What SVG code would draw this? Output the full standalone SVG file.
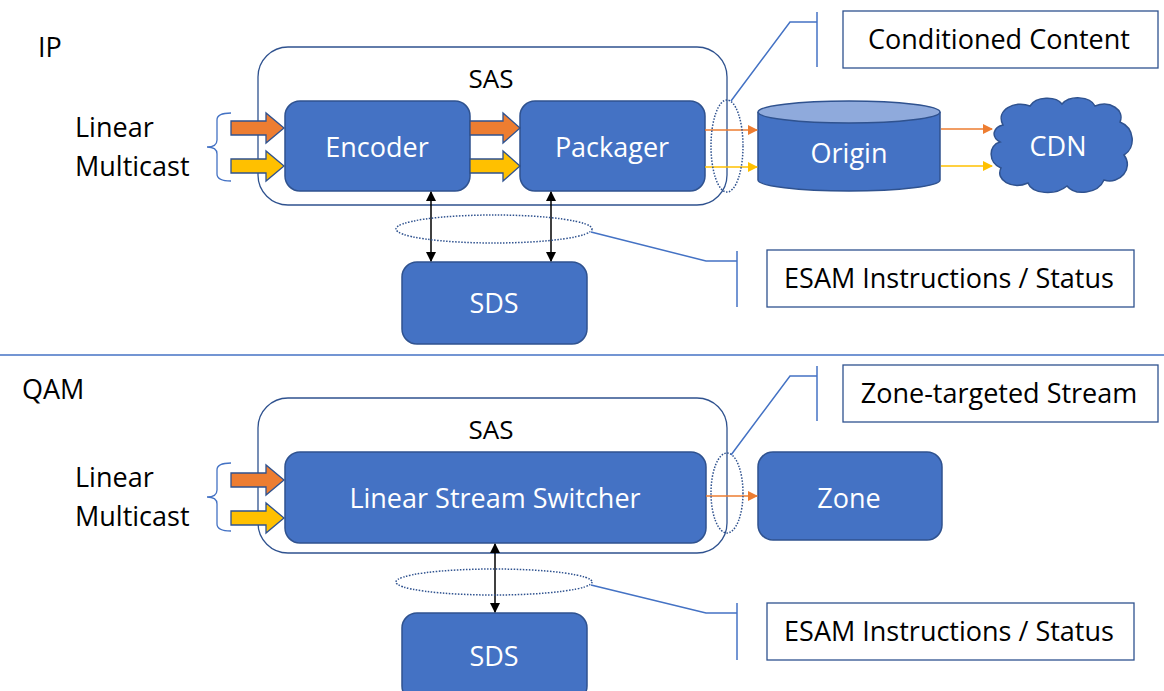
<svg xmlns="http://www.w3.org/2000/svg" width="1164" height="691" viewBox="0 0 1164 691">
<style>
text{font-family:"Open Sans","Liberation Sans",sans-serif;}
.lbl{font-size:27px;fill:#000;}
.nt{font-size:27px;fill:#fff;text-anchor:middle;dominant-baseline:central;}
.sas{font-size:26px;fill:#000;text-anchor:middle;}
.node{fill:#4472C4;stroke:#2F528F;stroke-width:1.5;}
.cont{fill:none;stroke:#2F528F;stroke-width:1.3;}
.dot{fill:none;stroke:#2F528F;stroke-width:1.5;stroke-dasharray:1.5 1.5;}
.call{fill:none;stroke:#4472C4;stroke-width:1.5;}
.box{fill:#fff;stroke:#2F528F;stroke-width:1.3;}
.ora{fill:#ED7D31;stroke:#2F528F;stroke-width:1.3;}
.yel{fill:#FFC000;stroke:#2F528F;stroke-width:1.3;}
.ol{stroke:#ED7D31;stroke-width:1.5;fill:none;}
.yl{stroke:#FFC000;stroke-width:1.5;fill:none;}
.bl{stroke:#000;stroke-width:1.5;fill:none;}
.brace{fill:none;stroke:#4472C4;stroke-width:1.3;}
</style>
<defs>
<marker id="mo" markerWidth="10" markerHeight="10" refX="9" refY="5" orient="auto" markerUnits="userSpaceOnUse"><path d="M0,0 L10,5 L0,10 z" fill="#ED7D31"/></marker>
<marker id="my" markerWidth="10" markerHeight="10" refX="9" refY="5" orient="auto" markerUnits="userSpaceOnUse"><path d="M0,0 L10,5 L0,10 z" fill="#FFC000"/></marker>
<marker id="mb" markerWidth="10" markerHeight="10" refX="9" refY="5" orient="auto-start-reverse" markerUnits="userSpaceOnUse"><path d="M0,0 L10,5 L0,10 z" fill="#000"/></marker>
</defs>

<!-- section labels -->
<text class="lbl" x="38" y="57">IP</text>
<text class="lbl" x="22" y="399">QAM</text>
<line x1="0" y1="355" x2="1164" y2="355" stroke="#4472C4" stroke-width="1.3"/>

<!-- TOP SECTION -->
<g id="ip-sas"><rect class="cont" x="258" y="47" width="469" height="158" rx="30"/><text class="sas" x="491" y="88">SAS</text></g>
<g id="ip-input">
<text class="lbl" x="75" y="137">Linear</text>
<text class="lbl" x="75" y="176">Multicast</text>
<path class="brace" d="M231,113 Q217,113 217,120 L217,140 Q217,147 207,147 Q217,147 217,154 L217,174 Q217,181 231,181"/>
</g>
<g id="encoder"><rect class="node" x="285" y="101" width="185" height="90" rx="15"/><text class="nt" x="377" y="146">Encoder</text></g>
<g id="packager"><rect class="node" x="520" y="101" width="185" height="90" rx="15"/><text class="nt" x="612" y="146">Packager</text></g>
<g id="origin">
<path class="node" d="M758,112 L758,180 A91,11 0 0 0 940,180 L940,112"/>
<ellipse cx="849" cy="112" rx="91" ry="11" fill="#8FAADC" stroke="#2F528F" stroke-width="1.5"/>
<text class="nt" x="849" y="152">Origin</text>
</g>
<g id="cdn">
<path class="node" d="M1003,125 C995,110 1015,100 1030,106 C1036,96 1056,96 1062,104 C1070,95 1090,96 1095,106 C1110,100 1125,110 1120,122 C1135,128 1136,148 1124,155 C1134,168 1120,185 1104,180 C1098,194 1075,196 1067,186 C1055,196 1032,194 1028,183 C1012,190 995,180 1001,168 C988,163 988,145 1000,142 C990,136 994,127 1003,125 Z"/>
<text class="nt" x="1058" y="145">CDN</text>
</g>
<g id="sds-top"><rect class="node" x="402" y="262" width="185" height="82" rx="15"/><text class="nt" x="494" y="302">SDS</text></g>
<g id="cc-box"><rect class="box" x="843" y="11" width="315" height="57"/><text class="lbl" x="999" y="49" text-anchor="middle">Conditioned Content</text></g>
<g id="esam-top"><rect class="box" x="767" y="250" width="367" height="57"/><text class="lbl" x="949" y="288" text-anchor="middle">ESAM Instructions / Status</text></g>

<!-- BOTTOM SECTION -->
<g id="qam-sas"><rect class="cont" x="258" y="398" width="469" height="155" rx="30"/><text class="sas" x="491" y="439">SAS</text></g>
<g id="qam-input">
<text class="lbl" x="75" y="487">Linear</text>
<text class="lbl" x="75" y="526">Multicast</text>
<path class="brace" d="M231,463 Q217,463 217,470 L217,490 Q217,497 207,497 Q217,497 217,504 L217,524 Q217,531 231,531"/>
</g>
<g id="switcher"><rect class="node" x="285" y="452" width="421" height="91" rx="15"/><text class="nt" x="495" y="497">Linear Stream Switcher</text></g>
<g id="zone"><rect class="node" x="758" y="452" width="184" height="88" rx="15"/><text class="nt" x="849" y="497">Zone</text></g>
<g id="sds-bottom"><rect class="node" x="402" y="613" width="185" height="88" rx="15"/><text class="nt" x="494" y="655">SDS</text></g>
<g id="zt-box"><rect class="box" x="843" y="365" width="315" height="57"/><text class="lbl" x="999" y="403" text-anchor="middle">Zone-targeted Stream</text></g>
<g id="esam-bottom"><rect class="box" x="767" y="603" width="367" height="57"/><text class="lbl" x="949" y="641" text-anchor="middle">ESAM Instructions / Status</text></g>

<!-- CONNECTORS -->
<g id="connectors">
<polygon class="ora" points="231,121 266,121 266,113 284,128 266,143 266,135 231,135"/>
<polygon class="yel" points="231,159 266,159 266,151 284,166 266,181 266,173 231,173"/>
<polygon class="ora" points="470,121 503,121 503,113 520,128 503,143 503,135 470,135"/>
<polygon class="yel" points="470,159 503,159 503,151 520,166 503,181 503,173 470,173"/>
<polygon class="ora" points="231,473 266,473 266,465 284,480 266,495 266,487 231,487"/>
<polygon class="yel" points="231,511 266,511 266,503 284,518 266,533 266,525 231,525"/>
<line class="ol" x1="705" y1="130" x2="757" y2="130" marker-end="url(#mo)"/>
<line class="yl" x1="705" y1="167" x2="757" y2="167" marker-end="url(#my)"/>
<line class="ol" x1="941" y1="129" x2="992" y2="129" marker-end="url(#mo)"/>
<line class="yl" x1="941" y1="166" x2="992" y2="166" marker-end="url(#my)"/>
<line class="ol" x1="706" y1="496" x2="757" y2="496" marker-end="url(#mo)"/>
<line class="bl" x1="431" y1="192" x2="431" y2="261" marker-start="url(#mb)" marker-end="url(#mb)"/>
<line class="bl" x1="551" y1="192" x2="551" y2="261" marker-start="url(#mb)" marker-end="url(#mb)"/>
<line class="bl" x1="495" y1="544" x2="495" y2="612" marker-start="url(#mb)" marker-end="url(#mb)"/>
<ellipse class="dot" cx="727" cy="146" rx="16" ry="46"/>
<ellipse class="dot" cx="494" cy="229" rx="98" ry="14"/>
<ellipse class="dot" cx="727" cy="493" rx="16" ry="40"/>
<ellipse class="dot" cx="494" cy="582" rx="98" ry="13"/>
<polyline class="call" points="731,101 790,22 817,22"/>
<line class="call" x1="817" y1="12" x2="817" y2="67"/>
<polyline class="call" points="591,232 706,261 737,261"/>
<line class="call" x1="737" y1="251" x2="737" y2="307"/>
<polyline class="call" points="731,455 790,376 817,376"/>
<line class="call" x1="817" y1="366" x2="817" y2="421"/>
<polyline class="call" points="591,585 706,613 737,613"/>
<line class="call" x1="737" y1="603" x2="737" y2="660"/>
</g>
</svg>
